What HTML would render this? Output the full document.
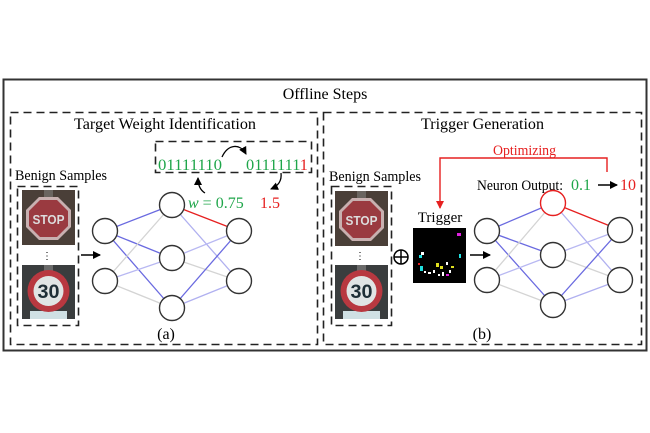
<!DOCTYPE html>
<html><head><meta charset="utf-8"><style>
html,body{margin:0;padding:0;background:#fff;}
svg{display:block;font-family:"Liberation Serif",serif;}
</style></head><body>
<svg width="650" height="433" viewBox="0 0 650 433" xmlns="http://www.w3.org/2000/svg">
<defs>
<marker id="ab" markerWidth="8" markerHeight="8" refX="7" refY="4" orient="auto" markerUnits="userSpaceOnUse"><path d="M0,0 L8,4 L0,8 z" fill="#000"/></marker>
<marker id="ar" markerWidth="8" markerHeight="8" refX="7" refY="4" orient="auto" markerUnits="userSpaceOnUse"><path d="M0,0 L8,4 L0,8 z" fill="#e62020"/></marker>
<g id="stop">
<rect x="0" y="0" width="53" height="55" fill="#4a3f38"/>
<rect x="22" y="0" width="9" height="10" fill="#6a6560"/>
<polygon points="17,7 36,7 49,20 49,37 36,50 17,50 4,37 4,20" fill="#c8b0b0"/>
<polygon points="18,10 35,10 46,21 46,36 35,47 18,47 7,36 7,21" fill="#9a3a40"/>
<text x="26.5" y="34" font-family="Liberation Sans,sans-serif" font-weight="bold" font-size="13" fill="#ddd" text-anchor="middle" textLength="32" lengthAdjust="spacingAndGlyphs">STOP</text>
</g>
<g id="thirty">
<rect x="0" y="0" width="53" height="54" fill="#3a3d3e"/>
<rect x="22" y="0" width="9" height="8" fill="#6a6a6a"/>
<rect x="8" y="46" width="37" height="8" fill="#cfe0e4"/>
<circle cx="26.5" cy="26" r="21" fill="#b83840"/>
<circle cx="26.5" cy="26" r="15" fill="#e0e4e4"/>
<text x="26.5" y="33" font-family="Liberation Sans,sans-serif" font-weight="bold" font-size="19" fill="#1e2e36" text-anchor="middle" textLength="22" lengthAdjust="spacingAndGlyphs">30</text>
</g>
</defs>

<rect x="3.5" y="79.5" width="643" height="271" fill="none" stroke="#333" stroke-width="2"/>
<text x="325" y="99" font-size="16" text-anchor="middle">Offline Steps</text>

<rect x="10.5" y="112.5" width="307" height="232" fill="none" stroke="#222" stroke-width="1.6" stroke-dasharray="8,5"/>
<rect x="323.5" y="112.5" width="318" height="232" fill="none" stroke="#222" stroke-width="1.6" stroke-dasharray="8,5"/>
<text x="74" y="129" font-size="16" textLength="182" lengthAdjust="spacingAndGlyphs">Target Weight Identification</text>
<text x="421" y="129" font-size="16" textLength="123" lengthAdjust="spacingAndGlyphs">Trigger Generation</text>

<!-- left part -->
<rect x="155.5" y="141.5" width="156" height="31" fill="none" stroke="#222" stroke-width="1.6" stroke-dasharray="8,5"/>
<text x="158" y="170" font-size="16" fill="#1fa64a" textLength="64" lengthAdjust="spacingAndGlyphs">01111110</text>
<text x="246" y="170" font-size="16" fill="#1fa64a" textLength="62" lengthAdjust="spacingAndGlyphs">0111111<tspan fill="#e62020">1</tspan></text>
<path d="M222,157 C228,144 240,143 246,154" fill="none" stroke="#000" stroke-width="1.3" marker-end="url(#ab)"/>
<path d="M205,193 C200,190 198,185 198,178" fill="none" stroke="#000" stroke-width="1.3" marker-end="url(#ab)"/>
<path d="M281,173 C282,181 278,186 271,189" fill="none" stroke="#000" stroke-width="1.3" marker-end="url(#ab)"/>
<text x="188" y="208" font-size="16" fill="#1fa64a"><tspan font-style="italic">w</tspan> = 0.75</text>
<text x="260" y="208" font-size="16" fill="#e62020">1.5</text>

<text x="15" y="180" font-size="14.5" textLength="92" lengthAdjust="spacingAndGlyphs">Benign Samples</text>
<rect x="17.5" y="186.5" width="61" height="139" fill="none" stroke="#222" stroke-width="1.6" stroke-dasharray="8,5"/>
<use href="#stop" x="22" y="190"/>
<use href="#thirty" x="22" y="265"/>
<text x="47" y="259" font-size="10" text-anchor="middle">⋮</text>
<line x1="81" y1="255" x2="100" y2="255" stroke="#000" stroke-width="1.5" marker-end="url(#ab)"/>

<g stroke-width="1.3" fill="none">
<line x1="105" y1="231" x2="172" y2="205" stroke="#6a6ae0"/>
<line x1="105" y1="231" x2="172" y2="258" stroke="#6a6ae0"/>
<line x1="105" y1="231" x2="172" y2="308" stroke="#6a6ae0"/>
<line x1="105" y1="281" x2="172" y2="205" stroke="#d4d4d4"/>
<line x1="105" y1="281" x2="172" y2="258" stroke="#b8b8f2"/>
<line x1="105" y1="281" x2="172" y2="308" stroke="#d4d4d4"/>
<line x1="172" y1="205" x2="239" y2="231" stroke="#e62020"/>
<line x1="172" y1="205" x2="239" y2="281" stroke="#b0b0f0"/>
<line x1="172" y1="258" x2="239" y2="231" stroke="#b8b8f2"/>
<line x1="172" y1="258" x2="239" y2="281" stroke="#d4d4d4"/>
<line x1="172" y1="308" x2="239" y2="231" stroke="#6a6ae0"/>
<line x1="172" y1="308" x2="239" y2="281" stroke="#b0b0f0"/>
</g>
<g fill="#fff" stroke="#333" stroke-width="1.4">
<circle cx="105" cy="231" r="12.5"/><circle cx="105" cy="281" r="12.5"/>
<circle cx="172" cy="205" r="12.5"/><circle cx="172" cy="258" r="12.5"/><circle cx="172" cy="308" r="12.5"/>
<circle cx="239" cy="231" r="12.5"/><circle cx="239" cy="281" r="12.5"/>
</g>
<text x="166" y="339" font-size="16" text-anchor="middle">(a)</text>

<!-- right part -->
<text x="493" y="155" font-size="15" fill="#e62020" textLength="63" lengthAdjust="spacingAndGlyphs">Optimizing</text>
<polyline points="607,172 607,158 440,158 440,208" fill="none" stroke="#e62020" stroke-width="1.4" marker-end="url(#ar)"/>
<text x="477" y="190" font-size="15" textLength="86" lengthAdjust="spacingAndGlyphs">Neuron Output:</text>
<text x="571" y="190" font-size="16" fill="#1fa64a">0.1</text>
<line x1="598" y1="185" x2="617" y2="185" stroke="#000" stroke-width="1.5" marker-end="url(#ab)"/>
<text x="620" y="190" font-size="16" fill="#e62020">10</text>

<text x="329" y="181" font-size="14.5" textLength="92" lengthAdjust="spacingAndGlyphs">Benign Samples</text>
<rect x="331.5" y="186.5" width="60" height="139" fill="none" stroke="#222" stroke-width="1.6" stroke-dasharray="8,5"/>
<use href="#stop" x="335" y="191"/>
<use href="#thirty" x="335" y="265"/>
<text x="360" y="259" font-size="10" text-anchor="middle">⋮</text>
<circle cx="401" cy="257" r="7" fill="none" stroke="#000" stroke-width="1.5"/>
<line x1="394" y1="257" x2="408" y2="257" stroke="#000" stroke-width="1.5"/>
<line x1="401" y1="250" x2="401" y2="264" stroke="#000" stroke-width="1.5"/>
<text x="440" y="222" font-size="15" text-anchor="middle">Trigger</text>
<rect x="413" y="228" width="53" height="55" fill="#000"/>
<g>
<rect x="457" y="233" width="4" height="3" fill="#e020e0"/>
<rect x="421" y="252" width="3" height="3" fill="#fff"/>
<rect x="419" y="255" width="3" height="3" fill="#20e0e0"/>
<rect x="459" y="254" width="2" height="4" fill="#20e0e0"/>
<rect x="420" y="266" width="3" height="5" fill="#20e0e0"/>
<rect x="418" y="263" width="2" height="2" fill="#e02020"/>
<rect x="436" y="263" width="3" height="4" fill="#e0e020"/>
<rect x="440" y="266" width="3" height="3" fill="#e0e020"/>
<rect x="451" y="266" width="3" height="2" fill="#e0e020"/>
<rect x="446" y="262" width="2" height="3" fill="#fff"/>
<rect x="424" y="271" width="2" height="2" fill="#fff"/>
<rect x="428" y="272" width="3" height="2" fill="#fff"/>
<rect x="433" y="270" width="2" height="3" fill="#fff"/>
<rect x="438" y="274" width="2" height="2" fill="#fff"/>
<rect x="442" y="272" width="2" height="4" fill="#fff"/>
<rect x="446" y="274" width="3" height="2" fill="#e020e0"/>
<rect x="449" y="270" width="2" height="3" fill="#fff"/>
</g>
<line x1="470" y1="255" x2="490" y2="255" stroke="#000" stroke-width="1.5" marker-end="url(#ab)"/>

<g stroke-width="1.3" fill="none">
<line x1="487" y1="231" x2="553" y2="203" stroke="#6a6ae0"/>
<line x1="487" y1="231" x2="553" y2="255" stroke="#6a6ae0"/>
<line x1="487" y1="231" x2="553" y2="305" stroke="#6a6ae0"/>
<line x1="487" y1="280" x2="553" y2="203" stroke="#d4d4d4"/>
<line x1="487" y1="280" x2="553" y2="255" stroke="#b8b8f2"/>
<line x1="487" y1="280" x2="553" y2="305" stroke="#d4d4d4"/>
<line x1="553" y1="203" x2="620" y2="230" stroke="#e62020"/>
<line x1="553" y1="203" x2="620" y2="280" stroke="#b0b0f0"/>
<line x1="553" y1="255" x2="620" y2="230" stroke="#b8b8f2"/>
<line x1="553" y1="255" x2="620" y2="280" stroke="#d4d4d4"/>
<line x1="553" y1="305" x2="620" y2="230" stroke="#6a6ae0"/>
<line x1="553" y1="305" x2="620" y2="280" stroke="#b0b0f0"/>
</g>
<g fill="#fff" stroke="#333" stroke-width="1.4">
<circle cx="487" cy="231" r="12.5"/><circle cx="487" cy="280" r="12.5"/>
<circle cx="553" cy="203" r="12.5" stroke="#e62020"/><circle cx="553" cy="255" r="12.5"/><circle cx="553" cy="305" r="12.5"/>
<circle cx="620" cy="230" r="12.5"/><circle cx="620" cy="280" r="12.5"/>
</g>
<text x="482" y="339" font-size="16" text-anchor="middle">(b)</text>
</svg>
</body></html>
